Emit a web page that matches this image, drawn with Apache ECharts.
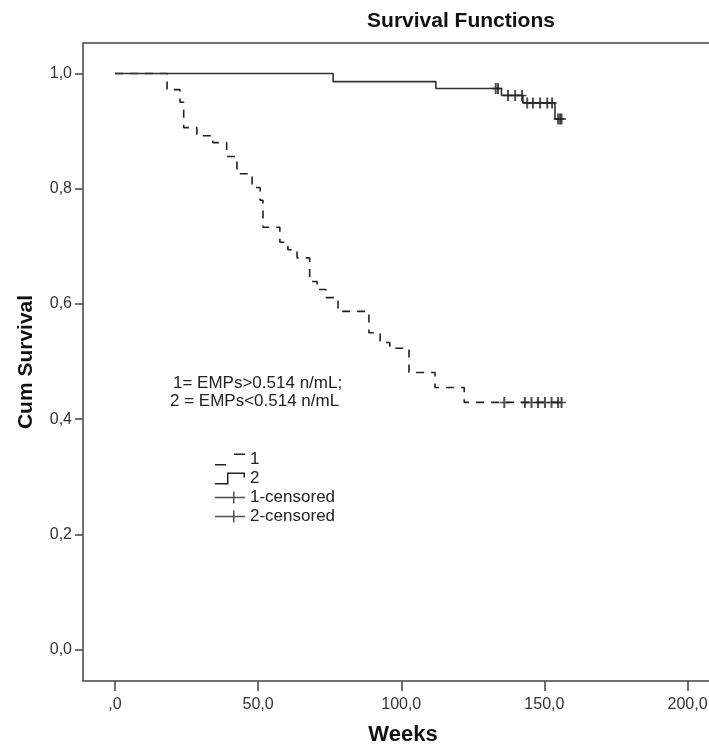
<!DOCTYPE html>
<html>
<head>
<meta charset="utf-8">
<script src="https://cdn.jsdelivr.net/npm/echarts@6/dist/echarts.min.js"></script>
<style>
html,body{margin:0;padding:0;background:#fff;}
#chart{width:709px;height:747px;}
</style>
</head>
<body>
<div id="chart"></div>
<script>
// ---- data ----
var titleText = 'Survival Functions';
var xAxisName = 'Weeks';
var yAxisName = 'Cum Survival';
var xTickValues = [0, 50, 100, 150, 200];
var xTickLabels = [',0', '50,0', '100,0', '150,0', '200,0'];
var yTickValues = [0, 0.2, 0.4, 0.6, 0.8, 1.0];
var yTickLabels = ['0,0', '0,2', '0,4', '0,6', '0,8', '1,0'];
var noteLines = ['1= EMPs>0.514 n/mL;', '2 = EMPs<0.514 n/mL'];
var seriesNames = ['1', '2', '1-censored', '2-censored'];

// group 1 (dashed) step function
var times1 = [0, 18.2, 22.7, 24.0, 28.6, 34.2, 39.0, 42.6, 47.9, 50.7, 51.7, 57.6, 60.4, 63.6, 68.0, 70.6, 73.7, 77.9, 88.7, 92.6, 96.0, 102.7, 111.8, 122.0, 156.5];
var surv1  = [1.0, 0.972, 0.950, 0.906, 0.892, 0.880, 0.856, 0.826, 0.802, 0.780, 0.733, 0.707, 0.694, 0.680, 0.639, 0.625, 0.611, 0.587, 0.550, 0.533, 0.523, 0.481, 0.455, 0.429, 0.429];
var censTimes1 = [136.0, 143.2, 145.5, 147.8, 150.2, 152.5, 154.8, 156.0];
var censSurv1  = [0.429, 0.429, 0.429, 0.429, 0.429, 0.429, 0.429, 0.429];

// group 2 (solid) step function
var times2 = [0, 76.2, 112.1, 135.0, 142.5, 153.7, 156.0];
var surv2  = [1.0, 0.986, 0.974, 0.962, 0.949, 0.921, 0.921];
var censTimes2 = [133.0, 133.8, 137.3, 139.8, 142.2, 144.0, 146.0, 148.5, 151.0, 152.7, 154.8, 155.5, 156.0];
var censSurv2  = [0.974, 0.974, 0.962, 0.962, 0.962, 0.949, 0.949, 0.949, 0.949, 0.949, 0.921, 0.921, 0.921];

function zip(a, b) { return a.map(function (v, i) { return [v, b[i]]; }); }

var FONT = 'Liberation Sans, Arial, sans-serif';
var INK = '#222';
var plusPath = 'path://M0,4.75h9v1.5h-9z M3.5,0h2v11h-2z';

var icon1 = 'path://M0,10.5h11v1.5h-11z M19,0h11v1.5h-11z';
var icon2 = 'path://M0,10.5h13v1.5h-13z M12,0h1.5v12h-1.5z M12,0h18v1.5h-18z M28.5,0h1.5v5h-1.5z';
var iconC = 'path://M0,5.25h30v1.5h-30z M18,0h1.5v12h-1.5z';

var chart = echarts.init(document.getElementById('chart'), null, {renderer: 'canvas'});
var option = {
  backgroundColor: '#fff',
  animation: false,
  grid: {left: 83, top: 43, width: 640, height: 638, outerBoundsMode: 'none', containLabel: false,
    show: true, borderColor: '#444', borderWidth: 1.5, backgroundColor: 'transparent'},
  xAxis: {
    type: 'value', min: -11.18, max: 212.4,
    name: xAxisName, nameLocation: 'middle', nameGap: 43,
    nameTextStyle: {fontFamily: FONT, fontWeight: 'bold', fontSize: 22, color: '#111'},
    axisLine: {show: false, onZero: false},
    splitLine: {show: false},
    axisTick: {show: true, inside: false, length: 10, customValues: xTickValues, lineStyle: {color: '#444', width: 1.5}},
    axisLabel: {customValues: xTickValues, margin: 16, fontFamily: FONT, fontSize: 16, color: '#333',
      formatter: function (v) { return xTickLabels[Math.round(v / 50)]; }}
  },
  yAxis: {
    type: 'value', min: -0.0547, max: 1.0530,
    name: yAxisName, nameLocation: 'middle', nameGap: 46, nameRotate: 90,
    nameTextStyle: {fontFamily: FONT, fontWeight: 'bold', fontSize: 21, color: '#111'},
    axisLine: {show: false, onZero: false},
    splitLine: {show: false},
    axisTick: {show: true, inside: false, length: 8, customValues: yTickValues, lineStyle: {color: '#444', width: 1.5}},
    axisLabel: {customValues: yTickValues, margin: 11, fontFamily: FONT, fontSize: 16, color: '#333',
      formatter: function (v) { return yTickLabels[Math.round(v / 0.2)]; }}
  },
  legend: {
    orient: 'vertical', left: 215, top: 451, itemWidth: 30, itemHeight: 12, itemGap: 2, padding: 0,
    selectedMode: false,
    textStyle: {fontFamily: FONT, fontSize: 17, color: INK},
    itemStyle: {color: INK, borderWidth: 0},
    data: [
      {name: seriesNames[0], icon: icon1},
      {name: seriesNames[1], icon: icon2},
      {name: seriesNames[2], icon: iconC},
      {name: seriesNames[3], icon: iconC}
    ]
  },
  graphic: [
    {type: 'text', style: {text: titleText, x: 461, y: 21, align: 'center', verticalAlign: 'middle', font: 'bold 21px ' + FONT, fill: '#111'}},
    {type: 'text', style: {text: noteLines[0], x: 173, y: 383, verticalAlign: 'middle', font: '17px ' + FONT, fill: INK}},
    {type: 'text', style: {text: noteLines[1], x: 170, y: 401, verticalAlign: 'middle', font: '17px ' + FONT, fill: INK}}
  ],
  series: [
    {name: seriesNames[0], type: 'line', step: 'end', data: zip(times1, surv1), showSymbol: false, symbol: 'none',
      color: INK, lineStyle: {color: INK, width: 1.6, type: [8, 7]}, z: 3},
    {name: seriesNames[1], type: 'line', step: 'end', data: zip(times2, surv2), showSymbol: false, symbol: 'none',
      color: '#333', lineStyle: {color: '#333', width: 1.6, type: 'solid'}, z: 3},
    {name: seriesNames[2], type: 'scatter', data: zip(censTimes1, censSurv1), symbol: plusPath, symbolSize: [9, 11],
      color: INK, itemStyle: {color: INK}, z: 4},
    {name: seriesNames[3], type: 'scatter', data: zip(censTimes2, censSurv2), symbol: plusPath, symbolSize: [9, 11],
      color: INK, itemStyle: {color: INK}, z: 4}
  ]
};
chart.setOption(option);
</script>
</body>
</html>
